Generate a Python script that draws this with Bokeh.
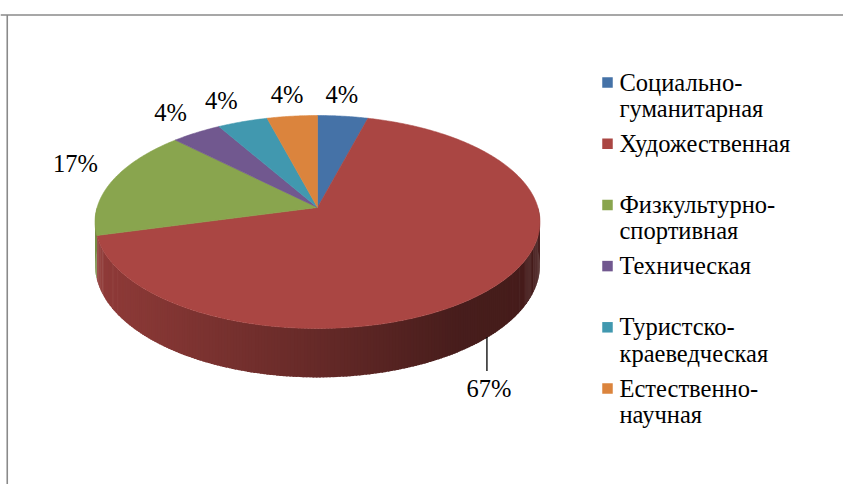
import numpy as np
from bokeh.plotting import figure
from bokeh.models import Range1d
from bokeh.core.properties import value
from bokeh.embed import file_html
from bokeh.resources import INLINE

# ---------------- data ----------------
categories = ["Социально-гуманитарная", "Художественная", "Физкультурно-спортивная",
              "Техническая", "Туристско-краеведческая", "Естественно-научная"]
counts = [1, 16, 4, 1, 1, 1]
colors = ["#4572A7", "#AA4643", "#89A54E", "#71588F", "#4198AF", "#DB843D"]

# ---------------- layout ----------------
W, H = 843, 484
p = figure(width=W, height=H, x_range=Range1d(0, W), y_range=Range1d(H, 0),
           output_backend="svg", toolbar_location=None, min_border=0,
           x_axis_type=None, y_axis_type=None)
p.grid.visible = False
p.outline_line_color = None
p.background_fill_color = "white"
p.border_fill_color = "white"

FONT = value("Liberation Serif")

# chart frame (cropped border)
p.segment(x0=[0, 6.75], y0=[14.5, 14.5], x1=[W, 6.75], y1=[14.5, H],
          line_color="#8a8a8a", line_width=1.6)

# 3D pie geometry (perspective projected disc)
cx, cy = 317.0, 207.0
RX, RY = 220.4, 104.5
K = 0.136
DEPTH = 42.3


def proj(phi, f=1.0):
    u = f * np.sin(phi)
    v = f * np.cos(phi)
    s = 1.0 / (1.0 + K * v)
    return cx + RX * u * s, cy - RY * v * s, s


def shade(hexcol, fac):
    r, g, b = (int(hexcol[i:i + 2], 16) for i in (1, 3, 5))
    return "#%02x%02x%02x" % (int(r * fac), int(g * fac), int(b * fac))


total = float(sum(counts))
fracs = [c / total for c in counts]
starts = np.concatenate([[0.0], np.cumsum(fracs)[:-1]]) * 2 * np.pi
ends = np.cumsum(fracs) * 2 * np.pi

# ---- side wall (front half only), drawn left to right with overlap ----
xmin, xmax = cx - RX * 1.01, cx + RX * 1.01
strips = []
step = np.radians(0.75)
for i in range(len(counts)):
    a0 = max(starts[i], np.pi / 2)
    a1 = min(ends[i], 3 * np.pi / 2)
    if a1 <= a0:
        continue
    n = max(1, int(np.ceil((a1 - a0) / step)))
    angs = np.linspace(a0, a1, n + 1)
    for j in range(n):
        b0 = angs[j]
        b1 = min(a1, angs[j + 1] + 0.5 * step)  # overlap next strip
        x1, y1, s1 = proj(b0)
        x2, y2, s2 = proj(b1)
        xm = 0.5 * (x1 + x2)
        t = (xm - xmin) / (xmax - xmin)
        fac = float(np.interp(t, [0.0, 0.5, 0.82, 1.0], [0.85, 0.6, 0.42, 0.41]))
        strips.append((-xm, [x1, x2, x2, x1],
                       [y1, y2, y2 + DEPTH * s2, y1 + DEPTH * s1], shade(colors[i], fac)))
strips.sort(key=lambda s: s[0])
p.patches(xs=[s[1] for s in strips], ys=[s[2] for s in strips],
          fill_color=[s[3] for s in strips], line_color=None)

# ---- top faces ----
txs, tys = [], []
for i in range(len(counts)):
    n = max(4, int(np.degrees(ends[i] - starts[i]) * 2))
    angs = np.linspace(starts[i], ends[i], n + 1)
    xs, ys, _ = proj(angs)
    txs.append([cx] + list(xs))
    tys.append([cy] + list(ys))
p.patches(xs=txs, ys=tys, fill_color=colors, line_color=colors, line_width=0.6)

# ---- data labels ----
FS_LBL = 24.5
lx, ly, ltxt = [], [], []
lead_x0, lead_y0, lead_x1, lead_y1 = [], [], [], []
for i in range(len(counts)):
    pct = int(round(100 * fracs[i]))
    txt = f"{pct}%"
    mid = 0.5 * (starts[i] + ends[i])
    if np.cos(mid) < -0.5:
        # front slice: leader line from bottom edge
        bx, by, bs = proj(mid)
        by = by + DEPTH * bs
        lead_x0.append(bx - 3); lead_y0.append(by + 1)
        lead_x1.append(bx - 3); lead_y1.append(by + 35)
        lx.append(bx - 1); ly.append(by + 52)
    else:
        ex, ey, _ = proj(mid)
        dx, dy = np.sin(mid), -np.cos(mid)
        w = FS_LBL * (0.5 * (len(txt) - 1) + 0.833)
        h = FS_LBL * 0.85
        g = 11
        fx = np.clip((abs(dx) - 0.13) / 0.8, 0, 1) ** 0.35
        ox = np.sign(dx) * (g + w / 2) * fx - 3
        oy = dy * (g + h / 2) - 16 * (1 - abs(dy))
        lx.append(ex + ox)
        ly.append(ey + oy)
    ltxt.append(txt)

p.segment(x0=lead_x0, y0=lead_y0, x1=lead_x1, y1=lead_y1, line_color="black", line_width=1.3)
p.text(x=lx, y=ly, text=ltxt, text_font=FONT, text_font_size=f"{FS_LBL}px",
       text_align="center", text_baseline="middle", text_color="black")

# ---- legend ----
FS_LEG = 24.5
LEG_X, LEG_Y0, LEG_STEP, LINE_GAP = 607, 81.5, 61.2, 26.5
sqx, sqy = [], []
tx, ty, tt = [], [], []
for i, name in enumerate(categories):
    yc = LEG_Y0 + i * LEG_STEP
    sqx.append(LEG_X); sqy.append(yc + 0.5)
    if "-" in name:
        head, tail = name.split("-", 1)
        lines = [head + "-", tail]
    else:
        lines = [name]
    for j, ln in enumerate(lines):
        tx.append(LEG_X + 12); ty.append(yc + j * LINE_GAP); tt.append(ln)

p.rect(x=sqx, y=sqy, width=10.5, height=10.5, fill_color=colors, line_color=None)
p.text(x=tx, y=ty, text=tt, text_font=FONT, text_font_size=f"{FS_LEG}px",
       text_align="left", text_baseline="middle", text_color="black")

open("out.html", "w").write(file_html(p, INLINE))
